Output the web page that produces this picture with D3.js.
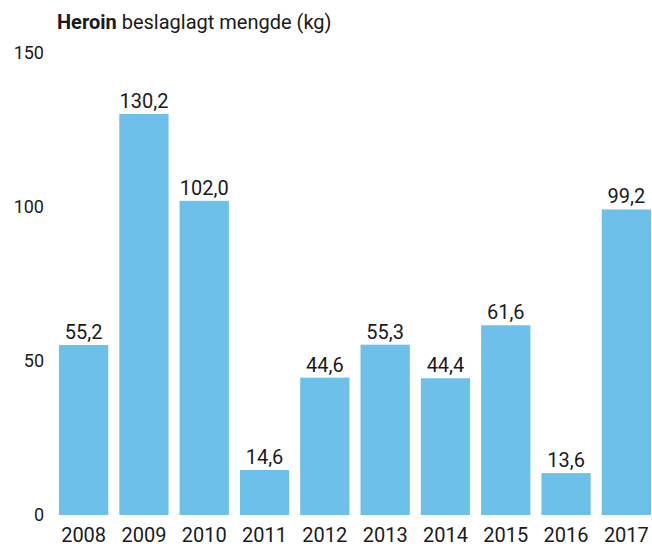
<!DOCTYPE html>
<html>
<head>
<meta charset="utf-8">
<script src="https://cdn.jsdelivr.net/npm/d3@7"></script>
<style>
  body { margin: 0; background: #fff; }
  text { font-family: Roboto, "Noto Sans", sans-serif; fill: #1a1a1a; }
</style>
</head>
<body>
<script>
// data
const years = ["2008", "2009", "2010", "2011", "2012", "2013", "2014", "2015", "2016", "2017"];
const values = [55.2, 130.2, 102.0, 14.6, 44.6, 55.3, 44.4, 61.6, 13.6, 99.2];
const yTicks = [0, 50, 100, 150];

const width = 652;
const height = 548;

const svg = d3.select("body").append("svg").attr("width", width).attr("height", height);

const x = d3.scaleBand().domain(years).range([59, 651]).paddingInner(0.183).paddingOuter(0);
const y = d3.scaleLinear().domain([0, 150]).range([515, 53]);

// title
const title = svg.append("text").attr("x", 57).attr("y", 29).attr("font-size", 20);
title.append("tspan").attr("font-weight", "bold").text("Heroin");
title.append("tspan").text(" beslaglagt mengde (kg)");

// y axis labels
svg.append("g")
  .selectAll("text")
  .data(yTicks)
  .join("text")
  .attr("x", 44)
  .attr("y", (d) => y(d))
  .attr("dy", "0.35em")
  .attr("text-anchor", "end")
  .attr("font-size", 18)
  .text((d) => d);

// bars
const data = years.map((yr, i) => ({ year: yr, value: values[i] }));

svg.append("g")
  .selectAll("rect")
  .data(data)
  .join("rect")
  .attr("x", (d) => x(d.year))
  .attr("y", (d) => y(d.value))
  .attr("width", x.bandwidth())
  .attr("height", (d) => y(0) - y(d.value))
  .attr("fill", "#6cc0ea");

// value labels
svg.append("g")
  .selectAll("text")
  .data(data)
  .join("text")
  .attr("x", (d) => x(d.year) + x.bandwidth() / 2)
  .attr("y", (d) => y(d.value) - 6)
  .attr("text-anchor", "middle")
  .attr("font-size", 20)
  .text((d) => d.value.toFixed(1).replace(".", ","));

// x labels
svg.append("g")
  .selectAll("text")
  .data(years)
  .join("text")
  .attr("x", (d) => x(d) + x.bandwidth() / 2)
  .attr("y", 542)
  .attr("text-anchor", "middle")
  .attr("font-size", 20)
  .text((d) => d);
</script>
</body>
</html>
